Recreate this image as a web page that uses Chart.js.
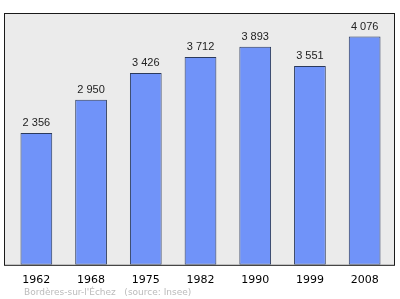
<!DOCTYPE html>
<html>
<head>
<meta charset="utf-8">
<script src="https://cdn.jsdelivr.net/npm/chart.js@4"></script>
<style>
  html, body { margin: 0; padding: 0; background: #fff; }
  #wrap { width: 400px; height: 299px; }
</style>
</head>
<body>
<div id="wrap"><canvas id="chart" width="400" height="299"></canvas></div>
<script>
const years = ["1962", "1968", "1975", "1982", "1990", "1999", "2008"];
const population = [2356, 2950, 3426, 3712, 3893, 3551, 4076];
const sourceText = "Bordères-sur-l'Échez   (source: Insee)";

function formatNumber(n) {
  return String(n).replace(/\B(?=(\d{3})+(?!\d))/g, " ");
}

// grey box with dark frame behind the bars
const framePlugin = {
  id: "frame",
  beforeDraw(chart) {
    const { ctx, chartArea } = chart;
    const x0 = chartArea.left - 4.5;
    const x1 = chartArea.right + 2.5;
    const y0 = chartArea.top - 0.5;
    const y1 = chartArea.bottom + 0.5;
    ctx.save();
    ctx.fillStyle = "#ebebeb";
    ctx.fillRect(x0, y0, x1 - x0, y1 - y0);
    ctx.strokeStyle = "#1a1a1a";
    ctx.lineWidth = 1;
    ctx.strokeRect(x0, y0, x1 - x0, y1 - y0);
    ctx.restore();
  },
  afterDraw(chart) {
    const { ctx } = chart;
    const meta = chart.getDatasetMeta(0);
    ctx.save();
    ctx.fillStyle = "#222";
    ctx.font = "11px 'Liberation Sans', Arial, sans-serif";
    ctx.textAlign = "center";
    ctx.textBaseline = "alphabetic";
    meta.data.forEach((bar, i) => {
      ctx.fillText(formatNumber(population[i]), bar.x, bar.y - 7);
    });
    ctx.fillStyle = "#bbb";
    ctx.font = "9px 'DejaVu Sans', sans-serif";
    ctx.textAlign = "left";
    ctx.fillText(sourceText, 24, 295);
    ctx.restore();
  }
};

new Chart(document.getElementById("chart"), {
  type: "bar",
  data: {
    labels: years,
    datasets: [
      {
        data: population,
        backgroundColor: "#7093f9",
        borderColor: "#2b3a5c",
        borderWidth: 1,
        borderSkipped: false,
        categoryPercentage: 1,
        barPercentage: 0.58,
      },
    ],
  },
  options: {
    responsive: false,
    animation: false,
    layout: { padding: { left: 9, right: 8, top: 14, bottom: 3 } },
    plugins: {
      legend: { display: false },
      tooltip: { enabled: false },
    },
    scales: {
      x: {
        grid: { display: false, drawTicks: false },
        border: { display: false },
        ticks: {
          color: "#000",
          padding: 9,
          font: { family: "'DejaVu Sans', sans-serif", size: 11 },
        },
      },
      y: {
        display: false,
        min: 0,
        max: 4480,
      },
    },
  },
  plugins: [framePlugin],
});
</script>
</body>
</html>
